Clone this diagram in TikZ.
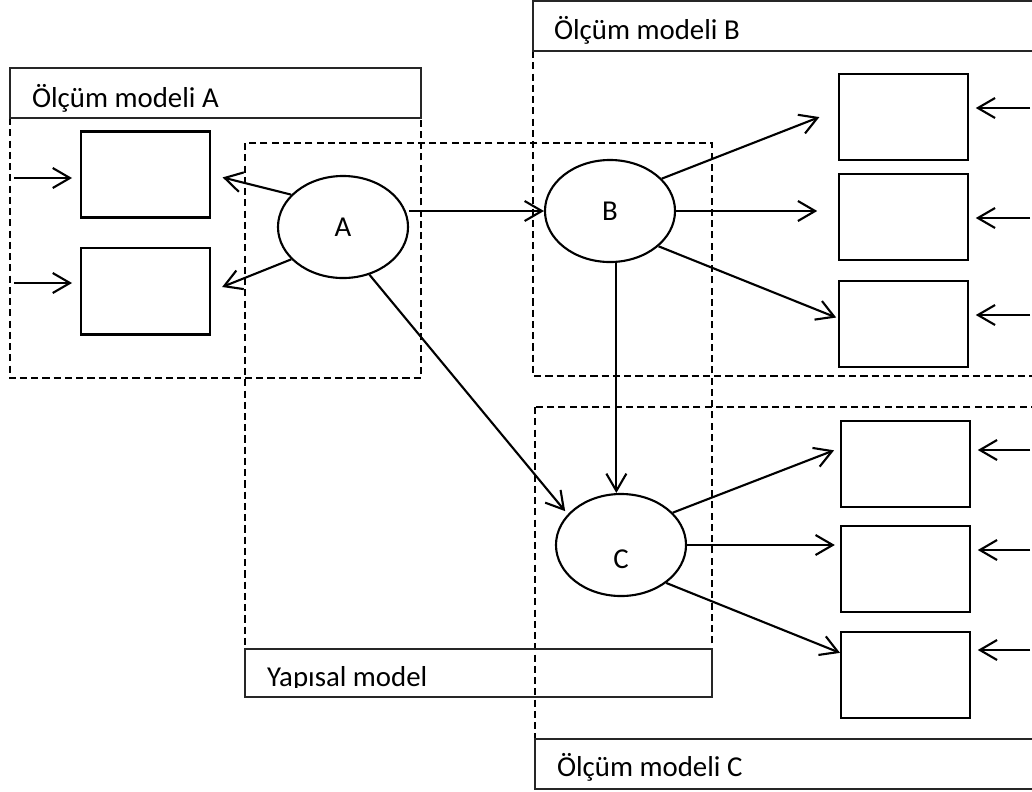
\documentclass[tikz,border=0pt]{standalone}
\usepackage{fontspec}
\setmainfont{Carlito}
\usetikzlibrary{shapes.geometric,positioning,arrows.meta}

\begin{document}
\begin{tikzpicture}[x=0.025cm, y=-0.025cm, >={Straight Barb[length=4.3mm,width=5mm]},
        line width=1.5pt, node distance=3mm,
        latent/.style={ellipse, draw, minimum width=3.25cm, minimum height=2.55cm, inner sep=0pt,
            font=\fontsize{20.5}{22}\selectfont},
        indicator/.style={rectangle, draw, minimum width=3.22cm, minimum height=2.15cm},
        frame/.style={line width=1.1pt, dash pattern=on 5pt off 3pt},
        caption/.style={line width=0.75pt, draw=black!85},
        title/.style={anchor=base west, inner sep=0pt, font=\fontsize{20.5}{24}\selectfont}]
    \useasboundingbox (0,0) rectangle (1032,791);
    \clip (0,0) rectangle (1032,791);

    % dashed frames of the sub-models
    \draw[frame] (10,118)  rectangle (421,378);
    \draw[frame] (245,143) rectangle (712,649);
    \draw[frame] (533,51)  rectangle (1045,376);
    \draw[frame] (535,407) rectangle (1045,739);

    % caption strips
    \draw[caption] (10,68)   rectangle (421,118);
    \draw[caption] (245,649) rectangle (712,697);
    \draw[caption] (533,1)   rectangle (1045,51);
    \draw[caption] (535,739) rectangle (1045,789);
    \node[title] (tA) at (31,107)  {Ölçüm modeli A};
    \node[title] (tB) at (553,39)  {Ölçüm modeli B};
    \node[title] (tC) at (556,776) {Ölçüm modeli C};
    \begin{scope}
        \clip (245,649) rectangle (712,687);
        \node[title] (tY) at (266,686) {Yapısal model};
    \end{scope}

    % latent variables
    \node[latent] (A) at (343,227) {A};
    \node[latent] (B) at (610,211) {B};
    \node[latent, text height=1.15cm, text depth=0pt] (C) at (621,545) {C};

    % indicators
    \node[indicator]                  (a1) at (145.5,174.5) {};
    \node[indicator, below=7.2mm of a1] (a2)              {};
    \node[indicator]                  (b1) at (903.5,117)   {};
    \node[indicator, below=3mm of b1]   (b2)              {};
    \node[indicator, below=4.75mm of b2] (b3)             {};
    \node[indicator]                  (c1) at (905.5,464)   {};
    \node[indicator, below=4.25mm of c1] (c2)             {};
    \node[indicator, below=4.5mm of c2]  (c3)             {};

    % error terms
    \coordinate (ea1) at (14,178);
    \coordinate (ea2) at (14,283);
    \coordinate (eb1) at (1030,108);
    \coordinate (eb2) at (1030,218);
    \coordinate (eb3) at (1030,315);
    \coordinate (ec1) at (1030,450);
    \coordinate (ec2) at (1030,550);
    \coordinate (ec3) at (1030,650);

    \path[->, shorten >=2mm]
        (ea1) edge (ea1 -| a1.west)
        (ea2) edge (ea2 -| a2.west);
    \path[->, shorten >=1.7mm]
        (eb1) edge (eb1 -| b1.east)
        (eb2) edge (eb2 -| b2.east)
        (eb3) edge (eb3 -| b3.east)
        (ec1) edge (ec1 -| c1.east)
        (ec2) edge (ec2 -| c2.east)
        (ec3) edge (ec3 -| c3.east);

    % measurement paths
    \path[->] (A.148) edge [shorten >=3mm] (a1.east)
              (A.212) edge [shorten >=3mm] (a2.east);
    \path[->] (B.32)  edge [shorten >=5mm]   ([yshift=1.8mm]b1.west)
              (B.east) edge [shorten >=5.2mm] (B.east -| b2.west)
              (B.-36) edge [shorten >=0.5mm]  ([yshift=1.5mm]b3.west);
    \path[->] (C.32)  edge [shorten >=1.6mm] ([yshift=4mm]c1.west)
              (C.east) edge [shorten >=1.3mm] (C.east -| c2.west)
              (C.-40) edge                    ([yshift=5.6mm]c3.west);

    % structural paths
    \path[->] (A.east |- B.west) edge (B.west)
              (A.-61) edge [shorten >=1mm] (C.150)
              (B.-83) edge (B.-83 |- C.north);
\end{tikzpicture}
\end{document}
